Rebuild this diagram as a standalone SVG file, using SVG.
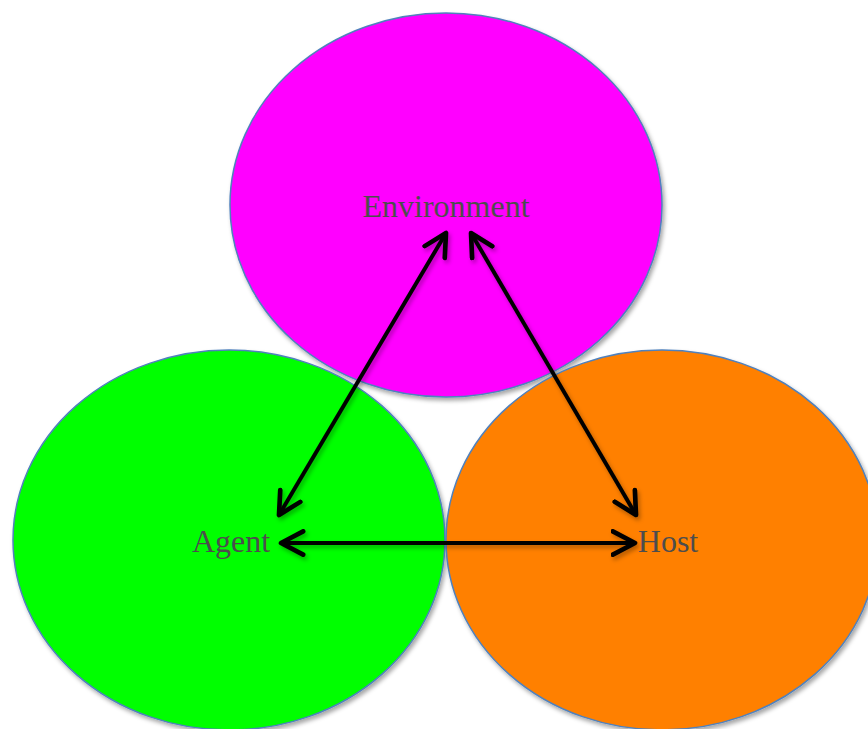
<svg xmlns="http://www.w3.org/2000/svg" width="868" height="729" viewBox="0 0 868 729">
<style>
.node ellipse{stroke:#4f81bd;stroke-width:1.5;filter:url(#sh)}
.lbl{font-family:"Liberation Serif","Times New Roman",serif;font-size:32px;fill:#4d4d4d;text-anchor:middle}
.conn{filter:url(#sh2)}
.conn line{stroke:#000;stroke-width:4;fill:none;marker-start:url(#ah);marker-end:url(#ah)}
</style>
<defs>
<filter id="sh" x="-10%" y="-10%" width="120%" height="120%"><feDropShadow dx="2" dy="3" stdDeviation="2" flood-color="#000" flood-opacity="0.35"/></filter>
<filter id="sh2" filterUnits="userSpaceOnUse" x="0" y="0" width="868" height="729"><feDropShadow dx="2" dy="3" stdDeviation="2" flood-color="#000" flood-opacity="0.3"/></filter>
<marker id="ah" viewBox="0 0 12 12" refX="10.5" refY="6" markerWidth="7" markerHeight="7" orient="auto-start-reverse" markerUnits="strokeWidth">
<path d="M1,1 L10.5,6 L1,11" fill="none" stroke="#000" stroke-width="2" stroke-linecap="round" stroke-linejoin="round"/>
</marker>
</defs>
<rect width="868" height="729" fill="#fff"/>
<g id="environment" class="node">
<ellipse cx="446" cy="205" rx="216" ry="192" fill="#ff00ff"/>
</g>
<g id="agent" class="node">
<ellipse cx="229" cy="540" rx="216" ry="190" fill="#00ff00"/>
</g>
<g id="host" class="node">
<ellipse cx="662" cy="540" rx="216" ry="190" fill="#ff8000"/>
</g>
<g id="labels">
<text class="lbl" x="446" y="217">Environment</text>
<text class="lbl" x="231" y="552">Agent</text>
<text class="lbl" x="668" y="552">Host</text>
</g>
<g id="connectors" class="conn">
<line x1="281" y1="543" x2="635" y2="543"/>
<line x1="446" y1="233" x2="279" y2="515"/>
<line x1="471" y1="233" x2="636" y2="515"/>
</g>
</svg>
